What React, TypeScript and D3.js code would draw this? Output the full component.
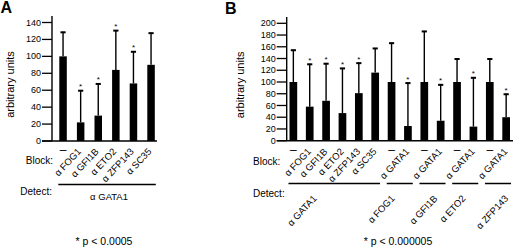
import React from "react";
import * as d3 from "d3";

// ---------- DATA ----------
const blockA = ["–", "α FOG1", "α GFI1B", "α ETO2", "α ZFP143", "α SC35"];
const meanA = [100, 22, 30, 84, 68, 90];
const errA = [29, 38, 38, 47, 38, 38];
const sigA = [false, true, true, true, true, false];
const ticksA = [0, 20, 40, 60, 80, 100, 120, 140];
const detectA = "α GATA1";

const blockB = ["–", "α FOG1", "α GFI1B", "α ETO2", "α ZFP143", "α SC35", "–", "α GATA1", "–", "α GATA1", "–", "α GATA1", "–", "α GATA1"];
const meanB = [100, 58, 68, 47, 81, 116, 100, 25, 100, 34, 100, 24, 100, 40];
const errB = [55, 73, 64, 77, 52, 42, 67, 74, 87, 62, 40, 84, 40, 40];
const sigB = [false, true, true, true, true, false, false, true, false, true, false, true, false, true];
const ticksB = [0, 20, 40, 60, 80, 100, 120, 140, 160, 180, 200];
const detectGroupsB = ["α GATA1", "α FOG1", "α GFI1B", "α ETO2", "α ZFP143"];
const detectFromB = [0, 6, 8, 10, 12];
const detectToB = [5, 7, 9, 11, 13];

const footA = "* p < 0.0005";
const footB = "* p < 0.000005";

// ---------- LAYOUT ----------
const W = 520, H = 249;
const FONT = "'Liberation Sans', Arial, Helvetica, sans-serif";
const detectNudgeB = [-17, -4.5, 5.5, 1, 11];

function Panel(props: {
  letter: string; letterX: number; letterY: number;
  axisX: number; yTop: number; y0: number; yMaxPx: number; yMax: number;
  ticks: number[]; bandRange: [number, number]; padInner: number;
  labels: string[]; mean: number[]; err: number[]; sig: boolean[];
  baseRight: number; ylabX: number; labelDx: number;
  blockLabelX: number; blockAnchor: string; blockY: number;
  detectLabelX: number; detectAnchor: string; detectY: number;
  children?: React.ReactNode; footX: number;
  foot: string;
}) {
  const p = props;
  const y = d3.scaleLinear().domain([0, p.yMax]).range([p.y0, p.yMaxPx]);
  const idx = p.mean.map((_, i) => String(i));
  const x = d3.scaleBand<string>().domain(idx).range(p.bandRange).paddingInner(p.padInner).paddingOuter(0);
  const bw = x.bandwidth();
  const tickLen = 10;
  return (
    <g fontFamily={FONT}>
      <text x={p.letterX} y={p.letterY} fontSize={16} fontWeight="bold">{p.letter}</text>
      {/* y axis */}
      <line x1={p.axisX} x2={p.axisX} y1={p.yTop} y2={p.y0} stroke="#000" strokeWidth={1.4} />
      {p.ticks.map((t) => (
        <g key={t}>
          <line x1={p.axisX - tickLen} x2={p.axisX} y1={y(t)} y2={y(t)} stroke="#000" strokeWidth={1.3} />
          <text x={p.axisX - tickLen - 1} y={y(t)} dy="0.34em" fontSize={9} textAnchor="end">{t}</text>
        </g>
      ))}
      {/* baseline */}
      <line x1={p.axisX - tickLen} x2={p.baseRight} y1={p.y0} y2={p.y0} stroke="#000" strokeWidth={1.4} />
      <text transform={`translate(${p.ylabX},${(p.y0 + p.yTop) / 2 + 6}) rotate(-90)`} fontSize={11} textAnchor="middle">arbitrary units</text>
      {/* bars */}
      {p.mean.map((m, i) => {
        const bx = x(String(i)) as number;
        const cx = bx + bw / 2;
        const top = y(m + p.err[i]);
        return (
          <g key={i}>
            <line x1={cx} x2={cx} y1={y(m)} y2={top} stroke="#000" strokeWidth={1.4} />
            <line x1={cx - 2.6} x2={cx + 2.6} y1={top + 0.5} y2={top + 0.5} stroke="#000" strokeWidth={2} />
            <rect x={bx} y={y(m)} width={bw} height={p.y0 - y(m)} fill="#000" />
            {p.sig[i] && (
              <text x={cx} y={top - 1} fontSize={8} textAnchor="middle">*</text>
            )}
            {p.labels[i] === "–" ? (
              <text x={cx} y={154} fontSize={12} textAnchor="middle">–</text>
            ) : (
              <text transform={`translate(${cx + p.labelDx},${152}) rotate(-47)`} fontSize={9.5} textAnchor="end">{p.labels[i]}</text>
            )}
          </g>
        );
      })}
      <text x={p.blockLabelX} y={p.blockY} fontSize={10} textAnchor={p.blockAnchor}>Block:</text>
      <text x={p.detectLabelX} y={p.detectY} fontSize={10} textAnchor={p.detectAnchor}>Detect:</text>
      <text x={p.footX} y={245} fontSize={10.5} textAnchor="middle">{p.foot}</text>
      {p.children && typeof p.children === "function" ? null : null}
      {renderDetect(p.letter, x, bw)}
    </g>
  );
}

function renderDetect(letter: string, x: d3.ScaleBand<string>, bw: number) {
  if (letter === "A") {
    const x1 = x("0") as number;
    const x2 = (x(String(blockA.length - 1)) as number) + bw;
    return (
      <g>
        <line x1={x1 - 1} x2={x2 + 1} y1={184.5} y2={184.5} stroke="#000" strokeWidth={1.5} />
        <text x={(x1 + x2) / 2 + 2} y={200} fontSize={9.5} textAnchor="middle">{detectA}</text>
      </g>
    );
  }
  return (
    <g>
      {detectGroupsB.map((lab, g) => {
        const x1 = x(String(detectFromB[g])) as number;
        const x2 = (x(String(detectToB[g])) as number) + bw;
        const mid = (x1 + x2) / 2;
        return (
          <g key={g}>
            <line x1={x1 - 1} x2={x2 + 1} y1={183.5} y2={183.5} stroke="#000" strokeWidth={1.5} />
            <text transform={`translate(${mid + detectNudgeB[g]},${199}) rotate(-47)`} fontSize={9.5} textAnchor="end">{lab}</text>
          </g>
        );
      })}
    </g>
  );
}

export default function App() {
  return (
    <svg width={W} height={H} style={{ position: "absolute", left: 0, top: 0, background: "#fff" }}>
      <rect width={W} height={H} fill="#fff" />
      <Panel
        letter="A" letterX={0.5} letterY={13}
        axisX={52} yTop={16} y0={141} yMaxPx={22.5} yMax={140}
        ticks={ticksA} bandRange={[59.3, 154.8]} padInner={0.574}
        labels={blockA} mean={meanA} err={errA} sig={sigA}
        baseRight={157} ylabX={13.5} labelDx={1}
        blockLabelX={53} blockAnchor="end" blockY={164}
        detectLabelX={52} detectAnchor="end" detectY={195}
        footX={104} foot={footA}
      />
      <Panel
        letter="B" letterX={225} letterY={14}
        axisX={286.7} yTop={17} y0={140.7} yMaxPx={23.3} yMax={200}
        ticks={ticksB} bandRange={[289.5, 510]} padInner={0.53}
        labels={blockB} mean={meanB} err={errB} sig={sigB}
        baseRight={513} ylabX={243.5} labelDx={2}
        blockLabelX={253} blockAnchor="start" blockY={165}
        detectLabelX={253} detectAnchor="start" detectY={197}
        footX={398} foot={footB}
      />
    </svg>
  );
}
